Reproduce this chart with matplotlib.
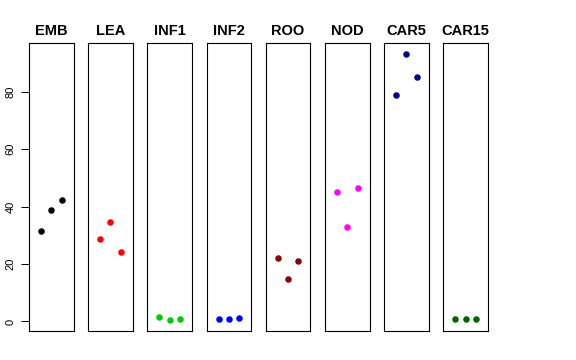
import numpy as np
import matplotlib.pyplot as plt

plt.rcParams['font.family'] = ['Liberation Sans', 'DejaVu Sans']

tissues = ["EMB", "LEA", "INF1", "INF2", "ROO", "NOD", "CAR5", "CAR15"]
colors = ["black", "red", "#00CD00", "blue", "#8B0000", "magenta", "#00008B", "#006400"]
emb = [31.4, 38.9, 42.4]
lea = [28.7, 34.7, 24.1]
inf1 = [1.6, 0.4, 1.0]
inf2 = [1.0, 0.8, 1.2]
roo = [22.1, 14.9, 21.2]
nod = [44.9, 32.8, 46.3]
car5 = [78.9, 93.1, 85.2]
car15 = [0.8, 0.8, 1.0]
values = [emb, lea, inf1, inf2, roo, nod, car5, car15]
reps = [1, 2, 3]
yticks = [0, 20, 40, 60, 80]

W, H = 576, 360
fig = plt.figure(figsize=(W / 100, H / 100), dpi=100)

# R style limits: 4% expansion
allv = np.concatenate(values)
lo, hi = allv.min(), allv.max()
pad = (hi - lo) * 0.04
ylim = (lo - pad, hi + pad)
xlim = (0 - 0.16, 4 + 0.16)

left0, step, width = 29, 59.2, 44.5
bottom, top = 29, 316.7

for i, (name, col, vals) in enumerate(zip(tissues, colors, values)):
    ax = fig.add_axes([(left0 + step * i) / W, bottom / H, width / W, (top - bottom) / H])
    ax.scatter(reps, vals, color=col, s=22, zorder=3, linewidths=0)
    ax.set_xlim(*xlim)
    ax.set_ylim(*ylim)
    ax.set_xticks([])
    ax.set_title(name, fontsize=10.5, fontweight="bold", pad=6)
    for sp in ax.spines.values():
        sp.set_linewidth(0.8)
        sp.set_color("black")
    if i == 0:
        ax.set_yticks(yticks)
        ax.set_yticklabels([str(t) for t in yticks], rotation=90, va="center", fontsize=8)
        ax.tick_params(axis="y", length=5.5, width=0.7, pad=4)
    else:
        ax.set_yticks([])

fig.savefig("out.png", dpi=100)
